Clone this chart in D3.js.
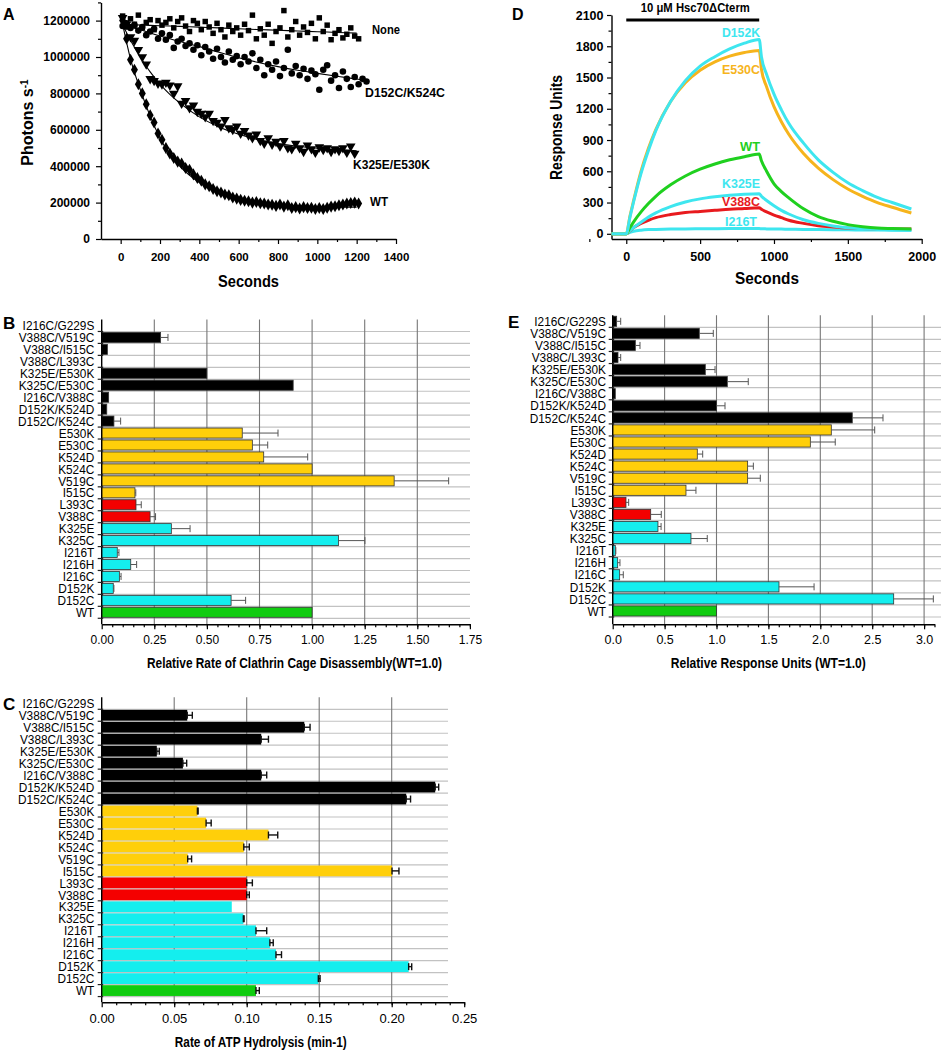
<!DOCTYPE html>
<html><head><meta charset="utf-8">
<script src="https://cdn.jsdelivr.net/npm/d3@7"></script>
<style>body{margin:0;background:#fff}svg{display:block}</style>
</head><body>
<svg id="fig" width="941" height="1050"></svg>
<script>
// ---------------- Panel A data (photons s^-1 vs seconds) ----------------
const timesA = [10,30,50,70,90,110,130,150,170,190,210,230,250,270,290,310,330,350,370,390,410,430,450,470,490,510,530,550,570,590,610,630,650,670,690,710,730,750,770,790,810,830,850,870,890,910,930,950,970,990,1010,1030,1050,1070,1090,1110,1130,1150,1170,1190,1210,1230,1250];
const noneA = [1225e3,1165e3,1210e3,1180e3,1230e3,1160e3,1190e3,1205e3,1150e3,1200e3,1175e3,1190e3,1210e3,1160e3,1195e3,1215e3,1170e3,1140e3,1200e3,1185e3,1150e3,1195e3,1165e3,1130e3,1185e3,1150e3,1110e3,1175e3,1140e3,1160e3,1120e3,1180e3,1145e3,1230e3,1100e3,1155e3,1120e3,1180e3,1075e3,1140e3,1160e3,1255e3,1110e3,1150e3,1195e3,1120e3,1165e3,1135e3,1185e3,1100e3,1215e3,1140e3,1175e3,1095e3,1130e3,1150e3,1105e3,1125e3,1160e3,1115e3,1100e3];
const d152cK524cA = [1170e3,1185e3,1160e3,1175e3,1145e3,1165e3,1120e3,1140e3,1155e3,1100e3,1130e3,1095e3,1120e3,1050e3,1085e3,1100e3,1060e3,1075e3,1040e3,1065e3,1010e3,1055e3,1030e3,990e3,1045e3,1000e3,970e3,1030e3,985e3,1005e3,960e3,1000e3,975e3,1020e3,940e3,985e3,900e3,960e3,930e3,975e3,895e3,940e3,1040e3,910e3,950e3,900e3,935e3,880e3,925e3,905e3,820e3,930e3,955e3,870e3,900e3,830e3,920e3,880e3,835e3,890e3,850e3,880e3,865e3];
const k325eE530kA = [1215e3,1180e3,1110e3,1090e3,1040e3,1000e3,960e3,880e3,870e3,855e3,850e3,860e3,845e3,800e3,840e3,745e3,760e3,720e3,735e3,700e3,690e3,670e3,690e3,650e3,640e3,620e3,655e3,610e3,600e3,620e3,580e3,595e3,570e3,555e3,575e3,540e3,525e3,555e3,520e3,535e3,510e3,540e3,500e3,495e3,525e3,500e3,480e3,515e3,495e3,475e3,505e3,490e3,500e3,480e3,495e3,485e3,500e3,475e3,510e3,470e3];
const wtA = [1200e3,1100e3,985e3,930e3,850e3,800e3,740e3,680e3,640e3,580e3,545e3,500e3,470e3,445e3,425e3,415e3,390e3,380e3,355e3,335e3,320e3,300e3,290e3,275e3,262e3,255e3,245e3,240e3,228e3,222e3,215e3,210e3,207e3,200e3,203e3,196e3,195e3,190e3,188e3,182e3,190e3,178e3,185e3,170e3,175e3,168e3,175e3,170e3,172e3,165e3,170e3,165e3,172e3,178e3,180e3,185e3,190e3,195e3,198e3,200e3,195e3];
const fitTimesA = [10,50,100,150,200,250,300,400,500,600,700,800,900,1000,1100,1200,1240];
const noneFitA = [1180e3,1178e3,1176e3,1174e3,1172e3,1170e3,1168e3,1164e3,1160e3,1155e3,1151e3,1147e3,1143e3,1139e3,1135e3,1131e3];
const d152cFitA = [1178e3,1165e3,1150e3,1132e3,1115e3,1100e3,1085e3,1057e3,1026e3,996e3,970e3,947e3,927e3,910e3,894e3,879e3,872e3];
const k325eFitA = [1178e3,1092e3,1000e3,918e3,851e3,795e3,748e3,671e3,616e3,575e3,546e3,525e3,510e3,499e3,491e3,485e3];
const wtFitA = [1180e3,990e3,820e3,675e3,555e3,465e3,400e3,310e3,255e3,222e3,202e3,190e3,182e3,178e3,176e3,175e3];
const seriesNamesA = ["None","D152C/K524C","K325E/E530K","WT"];
const xTicksA = [0,200,400,600,800,1000,1200,1400];
const xMinorA = [100,300,500,700,900,1100,1300];
const yTicksA = [0,200000,400000,600000,800000,1000000,1200000];
const yMinorA = [100000,300000,500000,700000,900000,1100000,1300000];

// ---------------- Panel D data (SPR response units) ----------------
const timesD = [-100,0,25,50,100,150,200,300,400,500,600,700,800,900,915,950,1000,1050,1100,1200,1300,1400,1500,1600,1700,1800,1930];
const d152kD = [0,0,160,310,580,800,990,1270,1470,1610,1700,1775,1830,1866,1700,1530,1340,1190,1060,870,710,590,490,415,350,300,238];
const e530cD = [0,0,170,320,600,820,1000,1270,1450,1570,1650,1705,1740,1760,1580,1410,1220,1075,955,770,630,520,430,360,300,255,200];
const wtD    = [0,0,60,115,210,290,360,470,555,620,670,710,740,765,700,600,480,405,345,240,165,120,88,68,55,50,45];
const k325eD = [0,0,30,60,110,160,200,260,305,335,355,370,380,385,360,320,270,225,190,135,100,75,58,48,42,38,35];
const v388cD = [0,0,30,60,100,130,155,185,205,215,225,235,242,250,235,210,180,155,130,100,78,65,55,50,47,45,45];
const i216tD = [0,0,15,25,35,40,42,45,47,48,49,50,50,50,48,47,46,45,44,42,40,39,38,37,36,35,34];
const injectionD = [0,900];
const xTicksD = [0,500,1000,1500,2000];
const xMinorD = [-250,250,750,1250,1750];
const yTicksD = [0,300,600,900,1200,1500,1800,2100];
const yMinorD = [150,450,750,1050,1350,1650,1950];

// ---------------- Bar panels B, C, E ----------------
const mutants = ["I216C/G229S","V388C/V519C","V388C/I515C","V388C/L393C","K325E/E530K","K325C/E530C","I216C/V388C","D152K/K524D","D152C/K524C","E530K","E530C","K524D","K524C","V519C","I515C","L393C","V388C","K325E","K325C","I216T","I216H","I216C","D152K","D152C","WT"];
const mutantGroups = ["dbl","dbl","dbl","dbl","dbl","dbl","dbl","dbl","dbl","yel","yel","yel","yel","yel","yel","red","red","cyan","cyan","cyan","cyan","cyan","cyan","cyan","wt"];
const disassemblyB    = [0,0.28,0.027,0,0.50,0.91,0.033,0.024,0.058,0.668,0.716,0.77,1.0,1.39,0.158,0.163,0.23,0.331,1.125,0.074,0.138,0.084,0.055,0.615,1.0];
const disassemblyErrB = [0,0.035,0,0,0,0,0,0,0.032,0.17,0.073,0.209,0,0.259,0.004,0.025,0.026,0.089,0.126,0.008,0.028,0.008,0.003,0.069,0];
const atpaseC    = [0,0.059,0.1397,0.110,0.038,0.056,0.110,0.230,0.210,0.066,0.072,0.115,0.098,0.0593,0.2002,0.100,0.100,0.0897,0.0977,0.1064,0.116,0.1202,0.2117,0.1494,0.1064];
const atpaseErrC = [0,0.0035,0.004,0.005,0.0017,0.0026,0.0038,0.0024,0.003,0.0005,0.0035,0.0064,0.0038,0.0027,0.0048,0.0039,0.0018,0,0.0005,0.0074,0.0023,0.0038,0.0021,0.0012,0.0023];
const responseE    = [0.038,0.834,0.218,0.051,0.892,1.104,0.025,1.0,2.308,2.106,1.904,0.815,1.3,1.3,0.706,0.128,0.366,0.436,0.754,0.025,0.048,0.067,1.602,2.707,1.0];
const responseErrE = [0.039,0.135,0.045,0.026,0.094,0.202,0,0.082,0.296,0.418,0.24,0.052,0.055,0.122,0.096,0.026,0.102,0.03,0.157,0.005,0.022,0.035,0.338,0.382,0];
const xTicksB = [0,0.25,0.5,0.75,1.0,1.25,1.5,1.75];
const xTicksC = [0,0.05,0.10,0.15,0.20,0.25];
const xTicksE = [0,0.5,1.0,1.5,2.0,2.5,3.0];

// ---------------- drawing ----------------
const FONT = '"Liberation Sans", Arial, Helvetica, sans-serif';
const svg = d3.select('#fig').attr('font-family', FONT);

function fitW(sel, w){ sel.attr('textLength', w).attr('lengthAdjust','spacingAndGlyphs'); }
function squeeze(sel, f){ sel.each(function(){ const w=this.getComputedTextLength(); d3.select(this).attr('textLength', w*f).attr('lengthAdjust','spacingAndGlyphs'); }); }
function styleAxis(g, fs, bold){
  g.attr('font-family', FONT).attr('font-size', fs).attr('font-weight', bold?'bold':'normal');
  g.selectAll('.tick line').attr('stroke','#000').attr('stroke-width',1.2);
  g.select('.domain').attr('stroke','#000').attr('stroke-width',1.4);
  g.selectAll('text').attr('fill','#000');
}
function label(x,y,txt,o={}){
  const t = svg.append('text').attr('x',x).attr('y',y).text(txt)
    .attr('font-size',o.fs||13).attr('font-weight',o.bold===false?'normal':'bold')
    .attr('text-anchor',o.anchor||'middle').attr('dy',o.dy||'0.35em').attr('fill',o.fill||'#000');
  if(o.rot) t.attr('transform',`rotate(${o.rot},${x},${y})`);
  if(o.w) fitW(t,o.w);
  return t;
}

// ===== Panel A =====
(function(){
  const g = svg.append('g');
  const x = d3.scaleLinear().domain([-100,1400]).range([101,396]);
  const y = d3.scaleLinear().domain([0,1300000]).range([239,2.4]);
  g.append('g').attr('transform','translate(0,239)')
    .call(d3.axisBottom(x).tickValues(xMinorA).tickSize(3).tickFormat(''))
    .call(a=>a.select('.domain').remove()).call(styleAxis,11.5,true);
  g.append('g').attr('transform','translate(0,239)')
    .call(d3.axisBottom(x).tickValues(xTicksA).tickSize(5).tickSizeOuter(0).tickPadding(8.7).tickFormat(d3.format('d')))
    .call(styleAxis,11.5,true);
  g.append('g').attr('transform','translate(101,0)')
    .call(d3.axisLeft(y).tickValues(yMinorA).tickSize(3).tickFormat(''))
    .call(a=>a.select('.domain').remove()).call(styleAxis,12,true);
  g.append('g').attr('transform','translate(101,0)')
    .call(d3.axisLeft(y).tickValues(yTicksA).tickSize(5).tickSizeOuter(0).tickPadding(6).tickFormat(d3.format('d')))
    .call(styleAxis,12,true);

  const series = [
    {vals:noneA, fit:noneFitA, sym:d3.symbolSquare, size:30, rot:0},
    {vals:d152cK524cA, fit:d152cFitA, sym:d3.symbolCircle, size:34, rot:0},
    {vals:k325eE530kA, fit:k325eFitA, sym:d3.symbolTriangle, size:40, rot:180},
    {vals:wtA, fit:wtFitA, sym:d3.symbolDiamond, size:42, rot:0}
  ];
  series.forEach(s=>{
    g.append('g').selectAll('path').data(s.vals).join('path')
      .attr('d', d3.symbol().type(s.sym).size(s.size))
      .attr('transform',(v,i)=>`translate(${x(timesA[i])},${y(v)}) rotate(${s.rot})`)
      .attr('fill','#000');
  });
  series.forEach(s=>{
    const line = d3.line().x((v,i)=>x(fitTimesA[i])).y(v=>y(v)).curve(d3.curveMonotoneX);
    g.append('path').attr('d', line(s.fit)).attr('fill','none').attr('stroke','#000').attr('stroke-width',1.1);
  });
  label(372,30,seriesNamesA[0],{anchor:'start',fs:12.5,w:28});
  label(365,93,seriesNamesA[1],{anchor:'start',fs:12.5,w:80});
  label(353,165,seriesNamesA[2],{anchor:'start',fs:12.5,w:77});
  label(370,202,seriesNamesA[3],{anchor:'start',fs:12.5,w:18});
  label(27.5,122.5,'',{rot:-90,fs:16}).call(t=>{
    t.append('tspan').text('Photons s');
    t.append('tspan').text('-1').attr('font-size',10).attr('dy','-0.5em');
  });
  label(248.5,281,'Seconds',{fs:17,w:61});
  label(3,14,'A',{anchor:'start',fs:16});
})();

// ===== Panel D =====
(function(){
  const g = svg.append('g');
  const x = d3.scaleLinear().domain([-100,2000]).range([611.5,921.7]);
  const y = d3.scaleLinear().domain([-50,2100]).range([239,15]);
  g.append('g').attr('transform','translate(0,239)')
    .call(d3.axisBottom(x).tickValues(xMinorD).tickSize(3).tickFormat(''))
    .call(a=>a.select('.domain').remove()).call(styleAxis,12,true);
  g.append('g').attr('transform','translate(0,239)')
    .call(d3.axisBottom(x).tickValues(xTicksD).tickSize(5).tickSizeOuter(0).tickPadding(8.5).tickFormat(d3.format('d')))
    .call(styleAxis,12.5,true);
  g.append('g').attr('transform','translate(611.5,0)')
    .call(d3.axisLeft(y).tickValues(yMinorD).tickSize(3).tickFormat(''))
    .call(a=>a.select('.domain').remove()).call(styleAxis,12,true);
  g.append('g').attr('transform','translate(611.5,0)')
    .call(d3.axisLeft(y).tickValues(yTicksD).tickSize(4.5).tickSizeOuter(0).tickPadding(3.5).tickFormat(d3.format('d')))
    .call(styleAxis,12.5,true);
  const cyan='#3ee6ef', orange='#f6b41c', green='#1fd01f', red='#e81a1e';
  const curves = [
    {v:i216tD,c:cyan},{v:v388cD,c:red},{v:k325eD,c:cyan},{v:wtD,c:green},{v:e530cD,c:orange},{v:d152kD,c:cyan}
  ];
  const line = d3.line().x((v,i)=>x(timesD[i])).y(v=>y(v)).curve(d3.curveMonotoneX);
  curves.forEach(c=>g.append('path').attr('d',line(c.v)).attr('fill','none').attr('stroke',c.c).attr('stroke-width',3));
  g.append('line').attr('x1',x(injectionD[0])).attr('x2',x(injectionD[1])).attr('y1',20).attr('y2',20).attr('stroke','#000').attr('stroke-width',3);
  label(695.3,7.5,'10 μM Hsc70ΔCterm',{fs:12,w:109});
  label(741,33,'D152K',{fs:12.5,fill:cyan,w:38});
  label(741,70,'E530C',{fs:12.5,fill:orange,w:38});
  label(750,147,'WT',{fs:12.5,fill:green,w:20});
  label(741,184,'K325E',{fs:12.5,fill:cyan,w:38});
  label(741,202,'V388C',{fs:12.5,fill:red,w:38});
  label(741,222,'I216T',{fs:12.5,fill:cyan,w:32});
  label(556.7,127.5,'Response Units',{rot:-90,fs:16,w:105});
  label(767,278,'Seconds',{fs:17,w:64});
  label(512,14,'D',{anchor:'start',fs:16});
})();

// ===== Bar panels =====
const barColors = {dbl:'#000000', yel:'#ffcf0a', red:'#f40000', cyan:'#14eeee', wt:'#10cc10'};
function barPanel(o){
  const g = svg.append('g');
  const n = mutants.length;
  const top = o.row0 - o.step/2;
  const y = d3.scaleBand().domain(mutants).range([top, top+o.step*n]).paddingInner(o.pad).paddingOuter(o.pad/2);
  const x = d3.scaleLinear().domain(o.domain).range(o.range);
  const x0 = x(0);
  g.append('g').selectAll('line').data(d3.range(1,n+1)).join('line')
    .attr('x1',x0).attr('x2',o.gridRight).attr('y1',k=>top+k*o.step).attr('y2',k=>top+k*o.step)
    .attr('stroke','#c2c2c2').attr('stroke-width',1.2);
  g.append('g').selectAll('line').data(o.ticks.filter(v=>v>0 && v<o.domain[1]-1e-9)).join('line')
    .attr('x1',d=>x(d)).attr('x2',d=>x(d)).attr('y1',top).attr('y2',o.axisY)
    .attr('stroke','#777').attr('stroke-width',1.1);
  const idx = d3.range(n).filter(i=>o.values[i]>0);
  g.append('g').selectAll('rect').data(idx).join('rect')
    .attr('x',x0).attr('y',i=>y(mutants[i])).attr('height',y.bandwidth())
    .attr('width',i=>x(o.values[i])-x0)
    .attr('fill',i=>barColors[mutantGroups[i]])
    .attr('stroke',o.stroke?'#333':'none').attr('stroke-width',0.8);
  const eidx = d3.range(n).filter(i=>o.errs[i]>0);
  const eg = g.append('g').attr('stroke',o.errColor).attr('stroke-width',o.errW);
  eidx.forEach(i=>{
    const cy = y(mutants[i]) + y.bandwidth()/2, xa = x(o.values[i]), xb = x(o.values[i]+o.errs[i]);
    eg.append('line').attr('x1',xa).attr('x2',xb).attr('y1',cy).attr('y2',cy);
    eg.append('line').attr('x1',xb).attr('x2',xb).attr('y1',cy-o.cap).attr('y2',cy+o.cap);
    if(o.capsBoth) eg.append('line').attr('x1',xa).attr('x2',xa).attr('y1',cy-o.cap).attr('y2',cy+o.cap);
  });
  // y axis
  g.append('line').attr('x1',x0).attr('x2',x0).attr('y1',top).attr('y2',o.axisY).attr('stroke','#000').attr('stroke-width',1.4);
  g.append('g').selectAll('line').data(d3.range(1,n+1)).join('line')
    .attr('x1',x0-4).attr('x2',x0+1.5).attr('y1',k=>top+k*o.step).attr('y2',k=>top+k*o.step)
    .attr('stroke','#222').attr('stroke-width',1.2);
  g.append('g').selectAll('text').data(mutants).join('text')
    .attr('x',o.labelRight).attr('y',d=>y(d)+y.bandwidth()/2).attr('dy','0.36em')
    .attr('text-anchor','end').attr('font-size',13).text(d=>d).call(squeeze,0.91);
  // x axis
  g.append('g').attr('transform',`translate(0,${o.axisY})`)
    .call(d3.axisBottom(x).tickValues(o.minor).tickSize(3).tickFormat(''))
    .call(a=>a.select('.domain').remove()).call(styleAxis,12,false);
  const pad = o.tickLabelOffset - 5 - 0.35*o.tickFs;
  g.append('g').attr('transform',`translate(0,${o.axisY})`)
    .call(d3.axisBottom(x).tickValues(o.ticks).tickSize(5).tickSizeOuter(0).tickPadding(pad).tickFormat(d3.format(o.fmt)))
    .call(styleAxis,o.tickFs,false);
  label(o.title[1],o.title[2],o.title[0],{fs:14,w:o.title[3]});
  label(o.letter[1],o.letter[2],o.letter[0],{anchor:'start',fs:17});
}
function minorSteps(max, step){ const out=[]; for(let k=1;k*step<=max+1e-9;k++) out.push(+(k*step).toFixed(4)); return out; }

barPanel({values:disassemblyB, errs:disassemblyErrB, domain:[0,1.75], range:[101.7,469.9],
  row0:325.5, step:11.95, pad:0.16, axisY:624.3, gridRight:470, labelRight:94.3,
  ticks:xTicksB, minor:minorSteps(1.75,0.05), fmt:'.2f', tickFs:12, tickLabelOffset:15.7,
  stroke:true, errColor:'#555', errW:1, cap:3.5, capsBoth:false,
  title:['Relative Rate of Clathrin Cage Disassembly(WT=1.0)',294.5,663,295], letter:['B',3,323]});
barPanel({values:responseE, errs:responseErrE, domain:[0,3.1], range:[612.7,612.7+3.1*103.8],
  row0:321.3, step:12.07, pad:0.16, axisY:624.3, gridRight:941, labelRight:606,
  ticks:xTicksE, minor:minorSteps(3.1,0.1), fmt:'.1f', tickFs:12.5, tickLabelOffset:15.7,
  stroke:true, errColor:'#555', errW:1, cap:3.5, capsBoth:false,
  title:['Relative Response Units (WT=1.0)',768.3,663.3,195], letter:['E',508,322]});
barPanel({values:atpaseC, errs:atpaseErrC, domain:[0,0.25], range:[101.7,101.7+0.25*1450],
  row0:703.3, step:11.97, pad:0.1, axisY:1002.3, gridRight:448, labelRight:94.3,
  ticks:xTicksC, minor:minorSteps(0.25,0.01), fmt:'.2f', tickFs:13, tickLabelOffset:16,
  stroke:false, errColor:'#111', errW:1.4, cap:3.5, capsBoth:true,
  title:['Rate of ATP Hydrolysis (min-1)',260.8,1041.7,172], letter:['C',3,704]});
</script>
</body></html>
